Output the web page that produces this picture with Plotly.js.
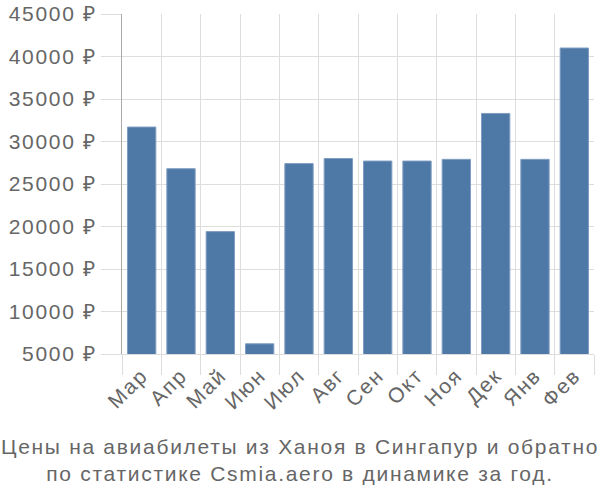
<!DOCTYPE html>
<html>
<head>
<meta charset="utf-8">
<script src="https://cdn.plot.ly/plotly-3.0.1.min.js"></script>
<style>
html,body{margin:0;padding:0;background:#fff;}
#chart{width:600px;height:500px;}
#chart text{letter-spacing:1.7px;}
</style>
</head>
<body>
<div id="chart"></div>
<script>
var months = ["Мар", "Апр", "Май", "Июн", "Июл", "Авг", "Сен", "Окт", "Ноя", "Дек", "Янв", "Фев"];
var prices = [31700, 26800, 19400, 6200, 27400, 28000, 27700, 27700, 27900, 33300, 27900, 41000];
var yTicks = [5000, 10000, 15000, 20000, 25000, 30000, 35000, 40000, 45000];
var yTickText = yTicks.map(function (v) { return v + " ₽"; });
var titleText = "Цены на авиабилеты из Ханоя в Сингапур и обратно<br>по статистике Csmia.aero в динамике за год.";
var FONT = "Liberation Sans, Arial, sans-serif";

var trace = {
  type: "bar",
  x: months,
  y: prices,
  marker: { color: "#4e79a7", line: { color: "#7f9dc2", width: 1 } },
  hoverinfo: "none"
};

var layout = {
  width: 600,
  height: 500,
  margin: { l: 122, r: 6, t: 14, b: 146 },
  paper_bgcolor: "#fff",
  plot_bgcolor: "#fff",
  bargap: 0.28,
  font: { family: FONT, size: 21, color: "#666" },
  showlegend: false,
  title: {
    text: titleText,
    x: 0.5,
    xanchor: "center",
    yref: "container",
    y: 0.092,
    yanchor: "middle",
    font: { family: FONT, size: 21, color: "#666" }
  },
  xaxis: {
    type: "category",
    tickson: "boundaries",
    ticks: "outside",
    ticklen: 20,
    tickcolor: "#ddd",
    tickwidth: 1,
    tickangle: -45,
    showgrid: true,
    gridcolor: "#ddd",
    gridwidth: 1,
    showline: true,
    linecolor: "#ddd",
    tickfont: { family: FONT, size: 21, color: "#666" },
    fixedrange: true
  },
  yaxis: {
    range: [5000, 45000],
    tickvals: yTicks,
    ticktext: yTickText,
    ticks: "outside",
    ticklen: 20,
    tickcolor: "#ddd",
    showgrid: true,
    gridcolor: "#ddd",
    gridwidth: 1,
    showline: true,
    linecolor: "#aaa",
    linewidth: 1,
    zeroline: false,
    tickfont: { family: FONT, size: 21, color: "#666" },
    fixedrange: true
  }
};

Plotly.newPlot("chart", [trace], layout, { displayModeBar: false, staticPlot: true });
</script>
</body>
</html>
